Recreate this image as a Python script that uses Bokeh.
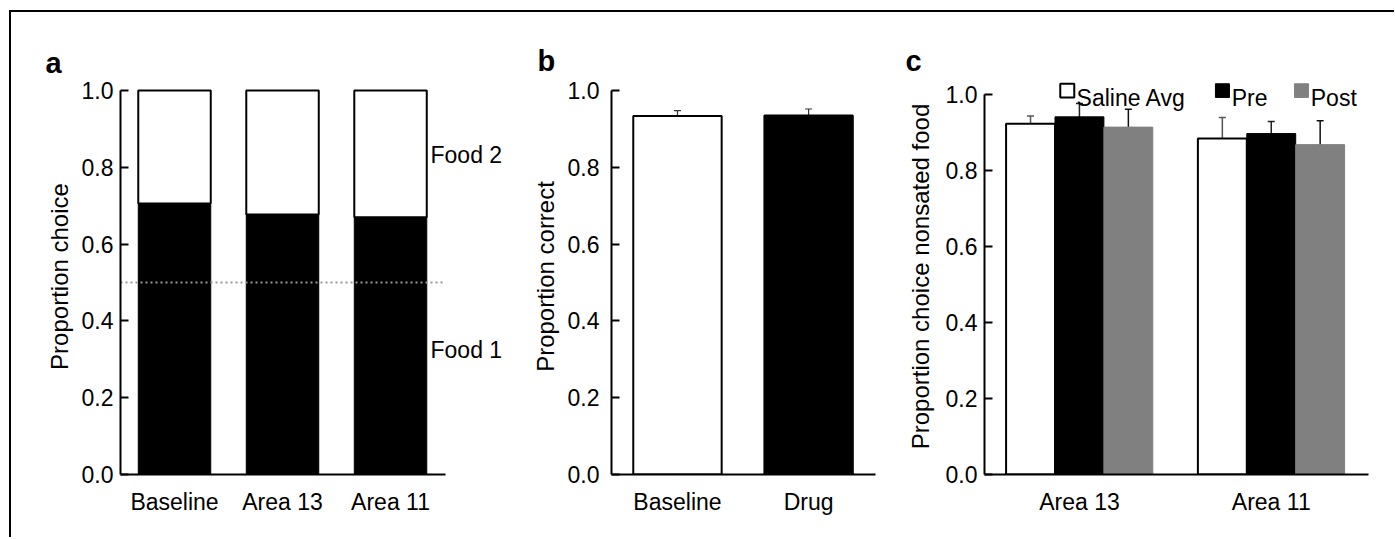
from bokeh.plotting import figure
from bokeh.layouts import row
from bokeh.models import (Range1d, FixedTicker, Whisker, TeeHead, ColumnDataSource,
                          Label, BoxAnnotation, NumeralTickFormatter, Title)
from bokeh.embed import file_html
from bokeh.resources import INLINE

# ---------------- data ----------------
a_categories = ["Baseline", "Area 13", "Area 11"]
a_food1 = [0.706, 0.677, 0.670]
a_food1_err = [0.094, 0.125, 0.065]
a_chance = 0.5

b_categories = ["Baseline", "Drug"]
b_correct = [0.934, 0.935]
b_err = [0.014, 0.017]

c_categories = ["Area 13", "Area 11"]
c_series = ["Saline Avg", "Pre", "Post"]
c_saline = [0.922, 0.883]
c_saline_err = [0.020, 0.055]
c_pre = [0.940, 0.896]
c_pre_err = [0.035, 0.032]
c_post = [0.913, 0.867]
c_post_err = [0.047, 0.063]

y_ticks = [0.0, 0.2, 0.4, 0.6, 0.8, 1.0]

# ---------------- style ----------------
FONT = "Liberation Sans"
TICK_FS = "23px"
LABEL_FS = "24px"
H = 525
TOP = 66      # common top border (frames are aligned across the row)
BOTTOM = 63


def make_fig(width, xr, xbounds, ytop, left, right, ylabel,
             y_standoff, label_standoff, cats, letter, letter_offset, letter_standoff):
    p = figure(width=width, height=H, x_range=xr, y_range=Range1d(0, ytop),
               output_backend="svg", toolbar_location=None,
               min_border_left=left, min_border_right=right,
               min_border_top=TOP, min_border_bottom=BOTTOM)
    p.outline_line_color = None
    p.grid.visible = False
    p.background_fill_color = "white"
    p.border_fill_color = "white"
    p.title = Title(text=letter, align="left", offset=letter_offset,
                    standoff=letter_standoff, text_font=FONT,
                    text_font_size="29px", text_font_style="bold", text_color="black")
    # y axis
    ya = p.yaxis[0]
    ya.bounds = (0, 1)
    ya.ticker = FixedTicker(ticks=y_ticks)
    ya.formatter = NumeralTickFormatter(format="0.0")
    ya.major_tick_in = 8
    ya.major_tick_out = 0
    ya.major_tick_line_width = 2
    ya.minor_tick_line_color = None
    ya.axis_line_width = 2
    ya.major_label_standoff = y_standoff
    ya.major_label_text_font = FONT
    ya.major_label_text_font_size = TICK_FS
    ya.major_label_text_color = "black"
    ya.axis_label = ylabel
    ya.axis_label_text_font = FONT
    ya.axis_label_text_font_size = LABEL_FS
    ya.axis_label_text_font_style = "normal"
    ya.axis_label_text_color = "black"
    ya.axis_label_standoff = label_standoff
    # x axis
    xa = p.xaxis[0]
    xa.bounds = xbounds
    xa.ticker = FixedTicker(ticks=list(range(1, len(cats) + 1)))
    xa.major_label_overrides = {i + 1: c for i, c in enumerate(cats)}
    xa.major_tick_line_color = None
    xa.minor_tick_line_color = None
    xa.axis_line_width = 2
    xa.major_label_standoff = 8
    xa.major_label_text_font = FONT
    xa.major_label_text_font_size = TICK_FS
    xa.major_label_text_color = "black"
    return p


def text(p, x, y, t, color="black"):
    p.add_layout(Label(x=x, y=y, text=t, text_font=FONT, text_font_size=TICK_FS,
                       text_baseline="alphabetic", text_color=color))


# ---------------- panel a ----------------
XA0, XA1 = 0.5, 3.509
pa = make_fig(509, Range1d(XA0, 4.157), (XA0, XA1), 1.0315, 109, 5,
              "Proportion choice", 7, 6, a_categories, "a", -75, 0)
xa_pos = list(range(1, len(a_categories) + 1))
src_a = ColumnDataSource(dict(
    x=xa_pos, food1=a_food1, total=[1.0] * len(a_food1),
    upper=[v + e for v, e in zip(a_food1, a_food1_err)]))
wa = 0.671
pa.vbar(x="x", width=wa, bottom=0, top="food1", fill_color="black",
        line_color="black", line_width=1, source=src_a)
pa.vbar(x="x", width=wa, bottom="food1", top="total", fill_color="white",
        line_color="black", line_width=2, source=src_a)
pa.add_layout(Whisker(base="x", lower="food1", upper="upper", source=src_a,
                      line_color="#555555", line_width=1,
                      upper_head=TeeHead(size=6, line_color="#555555", line_width=1),
                      lower_head=None))
pa.segment(x0=[XA0], x1=[XA1], y0=[a_chance], y1=[a_chance], line_color="#999999",
           line_width=2, line_dash="2 3")
text(pa, 3.37, 0.832, "Food 2")
text(pa, 3.37, 0.325, "Food 1")

# ---------------- panel b ----------------
XB0, XB1 = 0.497, 2.51
pb = make_fig(370, Range1d(XB0, XB1), (XB0, XB1), 1.0315, 91, 15,
              "Proportion correct", 12, 6, b_categories, "b", -74, 3)
xb_pos = list(range(1, len(b_categories) + 1))
src_b = ColumnDataSource(dict(
    x=xb_pos, val=b_correct, fill=["white", "black"],
    lower=[v - e for v, e in zip(b_correct, b_err)],
    upper=[v + e for v, e in zip(b_correct, b_err)]))
pb.vbar(x="x", width=0.674, bottom=0, top="val", fill_color="fill",
        line_color="black", line_width=2, source=src_b)
pb.add_layout(Whisker(base="x", lower="lower", upper="upper", source=src_b,
                      line_color="#333333", line_width=1.2,
                      upper_head=TeeHead(size=7, line_color="#333333", line_width=1.2),
                      lower_head=TeeHead(size=7, line_color="#333333", line_width=1.2)))

# ---------------- panel c ----------------
XC0, XC1 = 0.505, 2.507
pc = make_fig(504, Range1d(XC0, XC1), (XC0, XC1), 1.0408, 94, 26,
              "Proportion choice nonsated food", 7, 9, c_categories, "c", -79, 3)
xc_pos = list(range(1, len(c_categories) + 1))
off = 0.255
bw = 0.255
series = [
    (c_saline, c_saline_err, -off, "white", "black", 2, "#555555"),
    (c_pre, c_pre_err, 0.0, "black", "black", 1, "#222222"),
    (c_post, c_post_err, off, "#808080", "#808080", 1, "#111111"),
]
for vals, errs, dx, fc, lc, lw, ec in series:
    s = ColumnDataSource(dict(
        x=[x + dx for x in xc_pos], val=vals,
        lower=[v - e for v, e in zip(vals, errs)],
        upper=[v + e for v, e in zip(vals, errs)]))
    pc.vbar(x="x", width=bw, bottom=0, top="val", fill_color=fc, line_color=lc,
            line_width=lw, source=s)
    pc.add_layout(Whisker(base="x", lower="lower", upper="upper", source=s,
                          line_color=ec, line_width=1.5,
                          upper_head=TeeHead(size=7, line_color=ec, line_width=1.5),
                          lower_head=TeeHead(size=7, line_color=ec, line_width=1.5)))

# legend (boxes + labels above the bars)
leg_items = [
    (c_series[0], 0.900, "white", "black", 2),
    (c_series[1], 1.709, "black", "black", 1),
    (c_series[2], 2.121, "#808080", "#808080", 1),
]
sq_w = 0.073
for name, lx, fc, lc, lw in leg_items:
    pc.add_layout(BoxAnnotation(left=lx, right=lx + sq_w, bottom=0.991, top=1.027,
                                fill_color=fc, fill_alpha=1.0, line_color=lc,
                                line_width=lw, line_alpha=1.0))
    text(pc, lx + sq_w + 0.012, 0.989, name)

layout = row(pa, pb, pc, margin=(10, 0, 0, 9),
             styles={"border-top": "2px solid black", "border-left": "2px solid black"})

open("out.html", "w").write(file_html(layout, INLINE))
